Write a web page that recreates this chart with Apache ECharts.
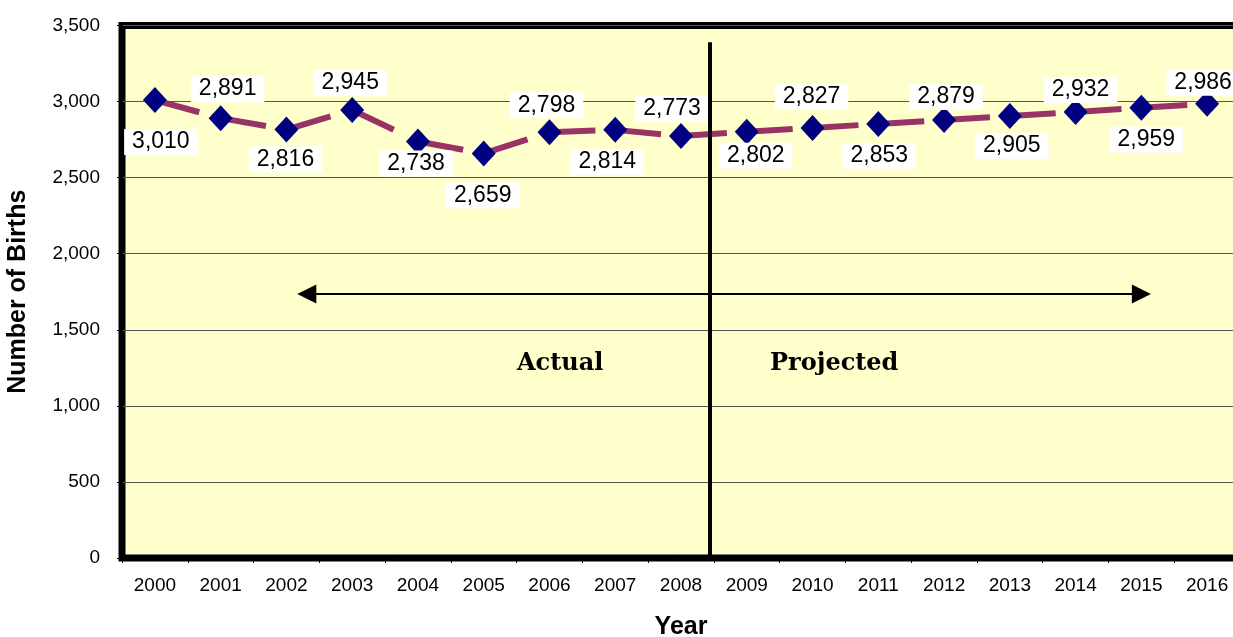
<!DOCTYPE html>
<html>
<head>
<meta charset="utf-8">
<script src="https://cdn.jsdelivr.net/npm/echarts@6/dist/echarts.min.js"></script>
<style>
  html, body { margin: 0; padding: 0; background: #fff; }
  #chart { width: 1233px; height: 637px; }
</style>
</head>
<body>
<div id="chart"></div>
<script>
const years = ["2000", "2001", "2002", "2003", "2004", "2005", "2006", "2007", "2008",
  "2009", "2010", "2011", "2012", "2013", "2014", "2015", "2016"];
const births = [3010, 2891, 2816, 2945, 2738, 2659, 2798, 2814, 2773,
  2802, 2827, 2853, 2879, 2905, 2932, 2959, 2986];
const yTicks = [0, 500, 1000, 1500, 2000, 2500, 3000, 3500];

// where each value box sits relative to its marker
const labelOffsets = [
  [6, 42], [7, -29], [-1, 30], [-2, -27], [-2, 22], [-1, 42], [-3, -27], [-8, 32], [-9, -27],
  [9, 24], [-1, -31], [1, 32], [2, -23], [2, 30], [5, -22], [5, 32], [-4, -21]
];

const font = "'Liberation Sans', Arial, sans-serif";
const chart = echarts.init(document.getElementById("chart"));

// Excel draws the long dash fresh on every segment, so each segment is its own series
const segments = births.slice(0, -1).map((_, i) => ({
  type: "line",
  clip: false,
  silent: true,
  z: 2,
  symbol: "none",
  data: births.map((v, j) => (j === i || j === i + 1 ? v : "-")),
  lineStyle: { color: "#993366", width: 6, type: [46, 300], cap: "butt" }
}));

const option = {
  animation: false,
  grid: {
    left: 122,
    top: 25.5,
    bottom: 79,
    right: -7,
    outerBoundsMode: "none",
    containLabel: false,
    show: true,
    backgroundColor: "#FFFFCC",
    borderColor: "#000",
    borderWidth: 7
  },
  xAxis: [
    {
      type: "category",
      data: years,
      boundaryGap: true,
      name: "Year",
      nameLocation: "middle",
      nameGap: 57,
      nameTextStyle: { fontFamily: font, fontSize: 25, fontWeight: "bold", color: "#000" },
      axisLine: { show: true, onZero: false, lineStyle: { color: "#000", width: 1 } },
      axisTick: { show: true, length: 5, lineStyle: { color: "#000" } },
      axisLabel: { fontFamily: font, fontSize: 19, color: "#000", margin: 18 },
      splitLine: { show: false }
    },
    {
      // hidden twin of the category axis, so the divider and arrow can sit between years
      type: "value",
      min: -0.5,
      max: years.length - 0.5,
      show: false
    }
  ],
  yAxis: {
    type: "value",
    min: yTicks[0],
    max: yTicks[yTicks.length - 1],
    interval: 500,
    name: "Number of Births",
    nameLocation: "middle",
    nameGap: 91,
    nameTextStyle: { fontFamily: font, fontSize: 25, fontWeight: "bold", color: "#000" },
    axisLine: { show: true, onZero: false, lineStyle: { color: "#000", width: 1 } },
    axisTick: { show: true, length: 5, lineStyle: { color: "#000" } },
    axisLabel: {
      fontFamily: font, fontSize: 19, color: "#000", margin: 22,
      formatter: v => v.toLocaleString("en-US")
    },
    splitLine: { show: true, lineStyle: { color: "#555", width: 1 } }
  },
  series: segments.concat([
    {
      type: "line",
      clip: false,
      z: 3,
      data: births.map((v, i) => ({
        value: v,
        label: { offset: labelOffsets[i] }
      })),
      symbol: "diamond",
      symbolSize: [24, 26],
      itemStyle: { color: "#000080" },
      lineStyle: { width: 0, opacity: 0 },
      label: {
        show: true,
        position: "inside",
        fontFamily: font,
        fontSize: 23,
        color: "#000",
        backgroundColor: "#fff",
        padding: [1, 8],
        lineHeight: 24,
        formatter: p => p.value.toLocaleString("en-US")
      }
    },
    {
      type: "line",
      xAxisIndex: 1,
      clip: false,
      silent: true,
      z: 1,
      data: [],
      markLine: {
        silent: true,
        label: { show: false },
        data: [
          [
            { coord: [8.43, 3390], symbol: "none", lineStyle: { color: "#000", width: 4, type: "solid" } },
            { coord: [8.43, 0], symbol: "none" }
          ],
          [
            { coord: [2.31, 1735], symbol: "triangle", symbolSize: [19, 19], lineStyle: { color: "#000", width: 2, type: "solid" } },
            { coord: [15.0, 1735], symbol: "triangle", symbolSize: [19, 19] }
          ]
        ]
      }
    }
  ]),
  graphic: [
    {
      type: "text",
      left: 517, top: 352,
      style: { text: "Actual", font: "bold 24px 'DejaVu Serif', serif", fill: "#000" }
    },
    {
      type: "text",
      left: 770, top: 352,
      style: { text: "Projected", font: "bold 24px 'DejaVu Serif', serif", fill: "#000" }
    }
  ]
};

chart.setOption(option);
</script>
</body>
</html>
